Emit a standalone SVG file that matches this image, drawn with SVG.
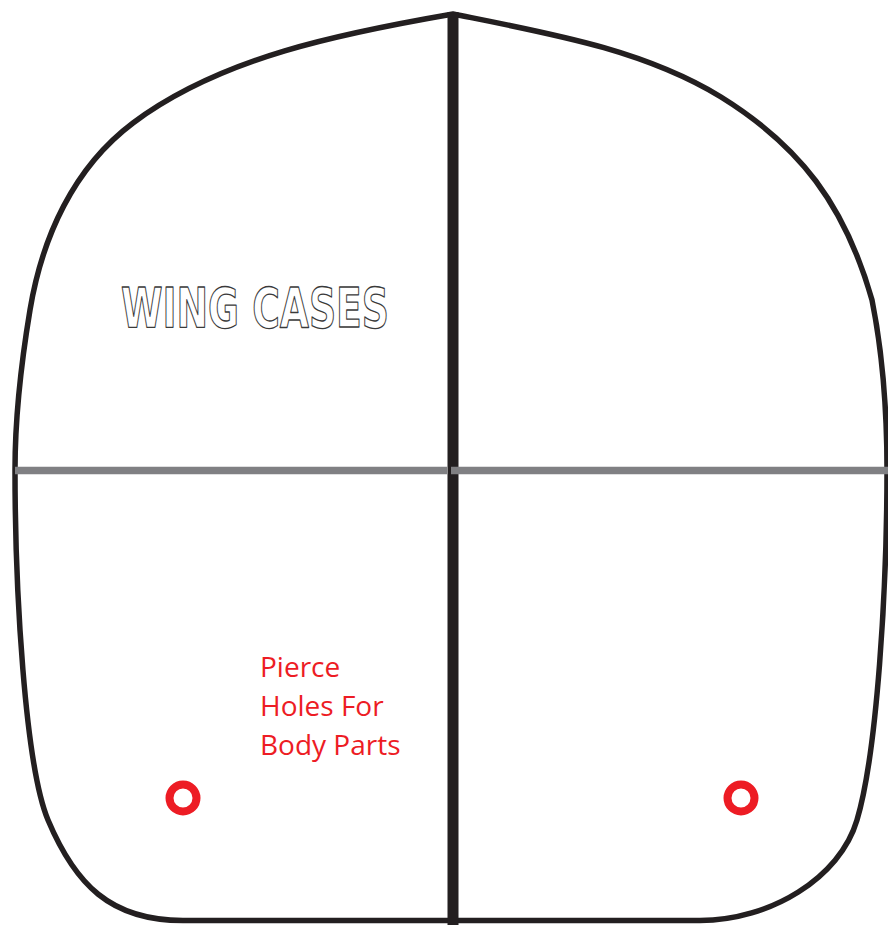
<svg xmlns="http://www.w3.org/2000/svg" width="888" height="925" viewBox="0 0 888 925">
<style>
.outline{fill:none;stroke:#231f20;stroke-width:5.5;stroke-linejoin:round}
.fold{stroke:#808083;stroke-width:7.5}
.spine{stroke:#231f20;stroke-width:11}
.hole{fill:none;stroke:#ed1c24;stroke-width:8}
.title{font-family:"DejaVu Sans",sans-serif;font-weight:bold;font-size:55px;fill:#fff;stroke:#3a3a3a;stroke-width:1.3;stroke-linejoin:round}
.note{font-family:"Open Sans","Noto Sans",sans-serif;font-size:28px;fill:#ed1c24}
</style>
<rect width="888" height="925" fill="#fff"/>
<g id="outline">
<path class="outline" d="M453,14 C343,33 221,57 133,123 C73,168 42,238 30,310 C21,364 15,420 15,470 C15,590 25,765 48,820 C75,884 110,920.5 183,920.5 L700,920.5 C770,920.5 840,878 857,820 C877,753 887,590 887,470 C887,410 882,350 872,300 C845,205 800,146 721,97 C644,50 553,34 453,14 Z"/>
</g>
<g id="connectors">
<line class="fold" x1="15" y1="470.5" x2="447" y2="470.5"/>
<line class="spine" x1="453" y1="12" x2="453" y2="925"/>
<line class="fold" x1="451" y1="470.5" x2="888" y2="470.5"/>
</g>
<g id="label-wing-cases">
<text class="title" x="121" y="327" textLength="268" lengthAdjust="spacingAndGlyphs">WING CASES</text>
</g>
<g id="label-pierce">
<text class="note" x="260" y="677">Pierce</text>
<text class="note" x="260" y="716">Holes For</text>
<text class="note" x="260" y="755">Body Parts</text>
</g>
<g id="hole-left"><circle class="hole" cx="183" cy="798" r="13.5"/></g>
<g id="hole-right"><circle class="hole" cx="741" cy="798" r="13.5"/></g>
</svg>
